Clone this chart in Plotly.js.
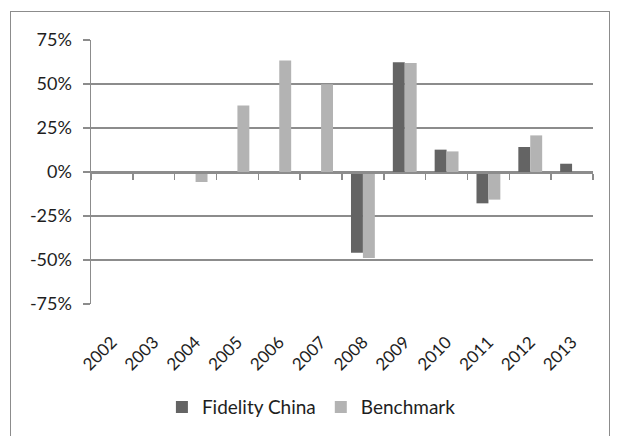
<!DOCTYPE html>
<html>
<head>
<meta charset="utf-8">
<script src="https://cdn.plot.ly/plotly-3.0.1.min.js"></script>
<style>
  html, body { margin: 0; padding: 0; background: #fff; }
  #wrap { position: relative; width: 618px; height: 436px; overflow: hidden; }
  #chart { width: 618px; height: 436px; }
  #frame { position: absolute; left: 10px; top: 11px; width: 598px; height: 460px;
           border: 1px solid #8c8c8c; pointer-events: none; }
</style>
</head>
<body>
<div id="wrap"><div id="chart"></div><div id="frame"></div></div>
<script>
const years = ['2002','2003','2004','2005','2006','2007','2008','2009','2010','2011','2012','2013'];
const fidelityChina = [null, null, null, null, null, null, -45.9, 62.4, 12.7, -17.8, 14.2, 4.7];
const benchmark = [null, null, -5.7, 37.8, 63.3, 49.9, -48.8, 62.0, 11.7, -15.7, 20.8, -0.7];
const yTickVals = [-75, -50, -25, 0, 25, 50, 75];
const yTickText = ['-75%', '-50%', '-25%', '0%', '25%', '50%', '75%'];

const fontFam = 'Lato, "Open Sans", sans-serif';
const gridCol = '#8c8c8c';
const textCol = '#1e1e1e';

const traces = [
  { type: 'bar', name: 'Fidelity China', x: years, y: fidelityChina,
    marker: { color: '#646464' }, hoverinfo: 'x+y' },
  { type: 'bar', name: 'Benchmark', x: years, y: benchmark,
    marker: { color: '#b3b3b3' }, hoverinfo: 'x+y' },
  { type: 'scatter', mode: 'markers', x: years, y: years.map(() => null),
    xaxis: 'x2', yaxis: 'y', showlegend: false, hoverinfo: 'skip' }
];

const layout = {
  width: 618, height: 436,
  margin: { l: 91, r: 25, t: 40, b: 132 },
  paper_bgcolor: '#ffffff', plot_bgcolor: '#ffffff',
  font: { family: fontFam, size: 18, color: textCol },
  barmode: 'group', bargap: 0.43, bargroupgap: 0,
  showlegend: true,
  legend: { orientation: 'h', xref: 'container', yref: 'container',
            x: 0.262, xanchor: 'left', y: 0.066, yanchor: 'middle',
            font: { family: fontFam, size: 19, color: textCol },
            traceorder: 'normal' },
  xaxis: { type: 'category', categoryorder: 'array', categoryarray: years,
           range: [-0.5, 11.5], showgrid: false, zeroline: false, showline: false,
           ticks: '', tickangle: -45, ticklabelstandoff: 24,
           tickfont: { family: fontFam, size: 17, color: textCol }, fixedrange: true },
  xaxis2: { type: 'category', categoryorder: 'array', categoryarray: years,
            overlaying: 'x', anchor: 'free', position: 0.5, range: [-0.5, 11.5],
            showgrid: false, zeroline: false, showline: true, linecolor: gridCol, linewidth: 1.5,
            ticks: 'outside', tickson: 'boundaries', ticklen: 6, tickwidth: 1.5, tickcolor: gridCol,
            showticklabels: false, fixedrange: true },
  yaxis: { range: [-75, 75], tickvals: yTickVals, ticktext: yTickText,
           showgrid: true, gridcolor: gridCol, gridwidth: 1.5, zeroline: false,
           showline: true, linecolor: gridCol, linewidth: 1.5,
           ticks: 'outside', ticklen: 7, tickwidth: 1.5, tickcolor: gridCol,
           ticklabelstandoff: 7,
           tickfont: { family: fontFam, size: 18, color: textCol }, fixedrange: true }
};

Plotly.newPlot('chart', traces, layout, { displayModeBar: false, staticPlot: true });
</script>
</body>
</html>
